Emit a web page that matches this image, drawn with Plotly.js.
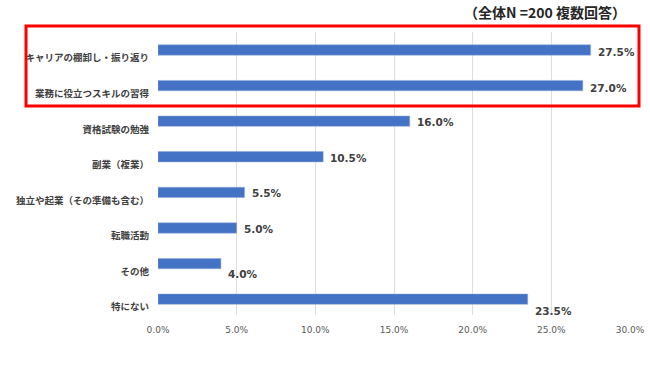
<!DOCTYPE html>
<html>
<head>
<meta charset="utf-8">
<script src="https://cdn.plot.ly/plotly-3.0.1.min.js"></script>
<style>html,body{margin:0;padding:0;background:#fff;}#chart{width:650px;height:365px;}</style>
</head>
<body>
<div id="chart"></div>
<script>
const categories = [
  "キャリアの棚卸し・振り返り",
  "業務に役立つスキルの習得",
  "資格試験の勉強",
  "副業（複業）",
  "独立や起業（その準備も含む）",
  "転職活動",
  "その他",
  "特にない"
];
const values = [0.275, 0.270, 0.160, 0.105, 0.055, 0.050, 0.040, 0.235];
const xTickVals = [0, 0.05, 0.10, 0.15, 0.20, 0.25, 0.30];
const titleText = "（全体N =200 複数回答）";

// pixel helpers for layout (plot area: x 158..630, y 32..315)
const L = 158, R = 630, T = 32, B = 315;
const px = v => (v - L) / (R - L);
const py = v => (B - v) / (B - T);

// vertical shifts of the data labels relative to bar centres (style only)
const labelDy = [-2, -2, -1, -1, -1, -1, -10, -12];

const trace = {
  type: "bar",
  orientation: "h",
  y: categories,
  x: values,
  width: 0.29,
  offset: -0.37,
  marker: {color: "#4472C4", line: {color: "#8FAADC", width: 0.5}},
  hoverinfo: "none"
};

const annotations = values.map((v, i) => ({
  x: v, y: i - 0.225, xref: "x", yref: "y",
  text: "<b>" + (v * 100).toFixed(1) + "%</b>",
  showarrow: false, xanchor: "left", yanchor: "middle",
  xshift: 5, yshift: labelDy[i],
  font: {family: "DejaVu Sans", size: 10.5, color: "#404040"}
}));

const layout = {
  width: 650, height: 365,
  margin: {l: L, r: 650 - R, t: T, b: 365 - B, pad: 0},
  paper_bgcolor: "#ffffff", plot_bgcolor: "#ffffff",
  showlegend: false,
  title: {
    text: "<b>" + titleText + "</b>",
    x: 626 / 650, xanchor: "right", xref: "container",
    y: 1 - 13 / 365, yanchor: "middle", yref: "container",
    font: {family: "Noto Sans CJK JP", size: 14, color: "#262626"}
  },
  xaxis: {
    range: [0, 0.30], autorange: false,
    tickvals: xTickVals, tickformat: ".1%",
    showgrid: true, gridcolor: "#DEDEDE", gridwidth: 1,
    zeroline: false, showline: false,
    ticks: "", ticklabelstandoff: 8,
    tickfont: {family: "DejaVu Sans", size: 9, color: "#595959"}
  },
  yaxis: {
    type: "category",
    range: [7.22, -0.73], autorange: false,
    showgrid: false, zeroline: false, showline: false,
    ticks: "", ticklabelstandoff: 8,
    tickfont: {family: "Noto Sans CJK JP", size: 9.5, color: "#404040", weight: "bold"}
  },
  shapes: [{
    type: "rect", xref: "paper", yref: "paper",
    x0: px(26), x1: px(639), y0: py(106), y1: py(26),
    line: {color: "#FF0000", width: 3}, fillcolor: "rgba(0,0,0,0)"
  }],
  annotations: annotations
};

Plotly.newPlot("chart", [trace], layout, {staticPlot: true, displayModeBar: false});
</script>
</body>
</html>
